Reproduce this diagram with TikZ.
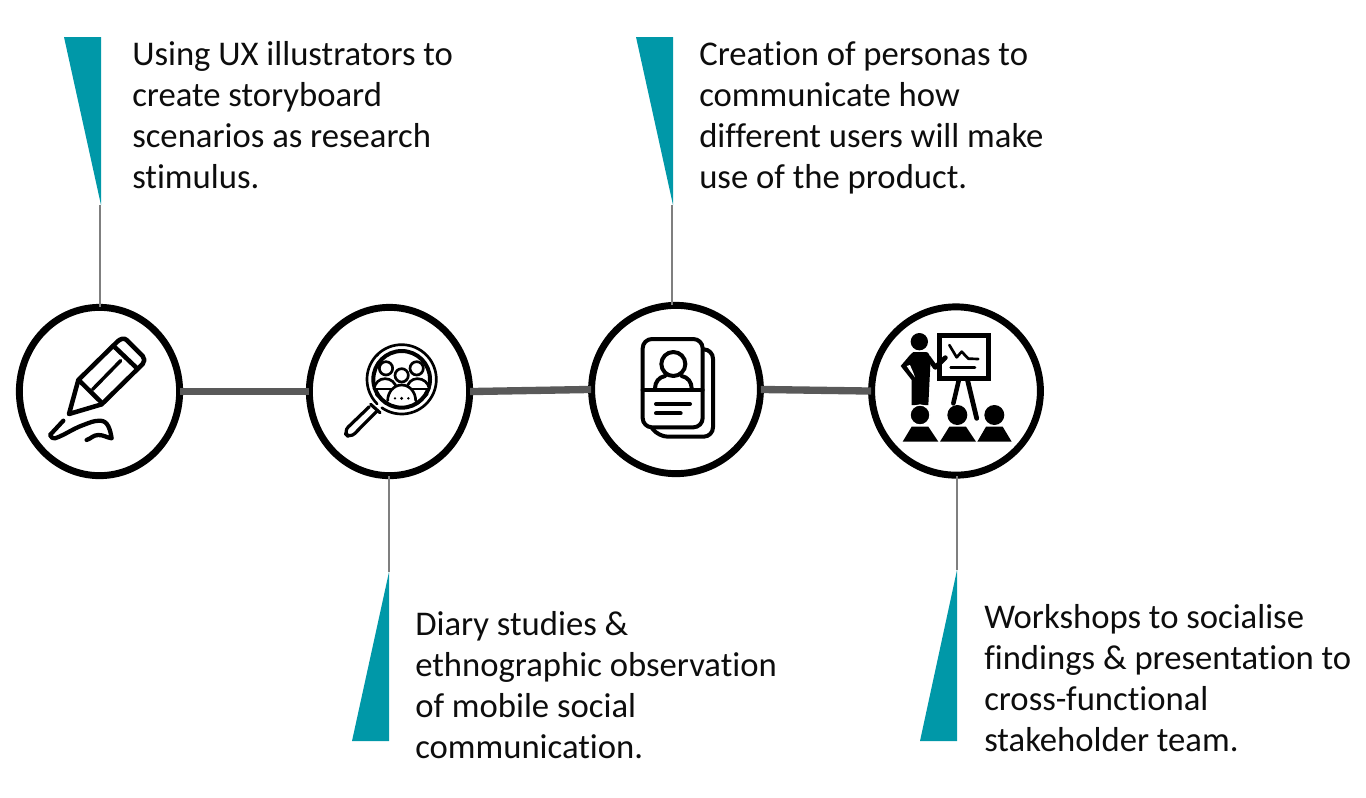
\documentclass[tikz,border=0pt]{standalone}
\usepackage{fontspec}
\usetikzlibrary{shapes.geometric}
\setmainfont{Carlito}[Ligatures=NoCommon]
\definecolor{teal1}{HTML}{0098A8}
\definecolor{link}{HTML}{595959}
\definecolor{thin}{HTML}{7F7F7F}
\tikzset{
  stage/.style={ellipse,draw=black,fill=white,line width=5.2pt,inner sep=0pt},
  narrowstage/.style={stage,minimum width=120.2pt,minimum height=126.2pt},
  widestage/.style={stage,minimum width=126.6pt,minimum height=126.2pt},
  linkline/.style={draw=link,line width=5.5pt,shorten <=-2.2pt,shorten >=-2.2pt},
  stem/.style={draw=thin,line width=1pt,shorten >=-2.2pt},
  flag/.style={fill=teal1,draw=none},
  caption/.style={align=left,inner sep=0pt,anchor=north west,text=black!95,font=\fontsize{26}{30.75}\selectfont},
  ic/.style={draw=black,line width=3pt,line cap=round,line join=round},
  ict/.style={draw=black,line width=2pt,line cap=round,line join=round},
  icf/.style={fill=black,draw=none}
}
\begin{document}
\begin{tikzpicture}[x=.75pt,y=-.75pt]
\useasboundingbox[fill=white] (0,0) rectangle (1366,797);
% flags
\fill[flag] (64,37) -- (101,37) -- (101,205) -- cycle;
\fill[flag] (389,572) -- (389,741) -- (352,741) -- cycle;
\fill[flag] (636,37) -- (673,37) -- (673,205) -- cycle;
\fill[flag] (957,570) -- (957,741) -- (920,741) -- cycle;
\coordinate (t1) at (100,205);
\coordinate (t2) at (389,572);
\coordinate (t3) at (672,205);
\coordinate (t4) at (957,570);
% circles
\node[narrowstage] (c1) at (99.5,391.5) {};
\node[narrowstage] (c2) at (389.5,391.5) {};
\node[widestage] (c3) at (676,389.5) {};
\node[widestage] (c4) at (956,391) {};
% connectors
\draw[linkline] (c1.east) -- (c2.west);
\draw[linkline] (c2.east) -- (c3.west);
\draw[linkline] (c3.east) -- (c4.west);
\draw[stem] (t1) -- (t1 |- c1.north);
\draw[stem] (t2) -- (t2 |- c2.south);
\draw[stem] (t3) -- (t3 |- c3.north);
\draw[stem] (t4) -- (t4 |- c4.south);
% captions
\node[caption] (n1) at (132,41) {Using UX illustrators to\\create storyboard\\scenarios as research\\stimulus.};
\node[caption] (n2) at (415,611) {Diary studies \&\\ethnographic observation\\of mobile social\\communication.};
\node[caption] (n3) at (699,41) {Creation of personas to\\communicate how\\different users will make\\use of the product.};
\node[caption] (n4) at (984,604) {Workshops to socialise\\findings \& presentation to\\cross-functional\\stakeholder team.};
% pencil icon
\begin{scope}[shift={(0,290)},x=.25pt,y=-.25pt]
\draw[ic,line width=3.4pt] (207,372) -- (235,270) -- (352,155) to[out=45,in=135] (380,150) -- (428,198) to[out=-45,in=45] (428,222) -- (305,343) -- cycle;
\draw[ic,line width=3.4pt] (238,272) -- (303,336);
\draw[ic,line width=3.4pt] (345,172) -- (408,232);
\draw[ict,line width=2.6pt] (278,298) -- (362,212);
\draw[ic,line width=3.2pt] (190,392) -- (150,435) to[out=-60,in=200] (165,445) to[out=20,in=200] (250,405) to[out=20,in=180] (300,392) to[out=0,in=100] (335,445) to[out=170,in=0] (295,435) to[out=180,in=20] (260,450);
\end{scope}
% magnifier icon
\begin{scope}[shift={(300,290)},x=.25pt,y=-.25pt]
\draw[ict] (305,268) ++(125:104) arc[start angle=125,end angle=-225,radius=104];
\draw[ict,line width=3pt] (305,268) circle[radius=85];
\fill[black] (232,195) circle[radius=5];
\draw[ict] (258,235) circle[radius=20];
\draw[ict] (350,235) circle[radius=20];
\draw[ict] (305,256) circle[radius=20];
\draw[ict,fill=white] (222,296) to[out=80,in=180] (255,266) to[out=0,in=100] (290,296);
\draw[ict,fill=white] (320,296) to[out=80,in=180] (352,266) to[out=0,in=100] (388,296);
\draw[ict] (222,297) -- (388,297);
\draw[ict,fill=white] (263,332) to[out=90,in=180] (305,285) to[out=0,in=90] (347,332);
\draw[ict] (228,312) to (256,338);
\draw[ict] (382,312) to (354,338);
\fill[black] (285,325) circle[radius=4] (305,325) circle[radius=5] (325,325) circle[radius=4];
\draw[ic,line width=2.4pt] (212,343) -- (240,368);
\draw[ic,line width=2.4pt,rounded corners=5pt] (208,350) -- (130,425) -- (150,445) -- (232,362);
\end{scope}
% persona icon
\begin{scope}[shift={(580,290)},x=.25pt,y=-.25pt]
\draw[ic,rounded corners=7pt] (188,147) rectangle (368,412);
\draw[ic,rounded corners=7pt] (372,178) -- (399,178) -- (399,440) -- (235,440) -- (216,414);
\draw[ic] (280,222) circle[radius=36];
\draw[ic] (225,295) to[out=90,in=190] (255,258);
\draw[ic] (335,295) to[out=90,in=-10] (305,258);
\draw[ic] (188,300) -- (368,300);
\draw[ic] (228,342) -- (330,342);
\draw[ic] (228,370) -- (302,370);
\end{scope}
% workshop icon
\begin{scope}[shift={(860,290)},x=.25pt,y=-.25pt]
\draw[draw=black,line width=3.6pt,line join=miter] (238,137) rectangle (385,265);
\draw[ict] (268,165) -- (290,202) -- (305,185) -- (325,206) -- (355,207);
\draw[ict] (272,233) -- (345,233);
\draw[draw=black,line width=3.4pt,line cap=round] (297,268) -- (280,340);
\draw[draw=black,line width=3.6pt,line cap=round] (322,268) -- (350,385);
\fill[icf] (178,155) circle[radius=26];
\fill[icf] (160,186) -- (198,186) to[out=0,in=120] (212,205) -- (205,345) -- (155,345) -- (155,270) -- (122,228) -- (150,195) -- cycle;
\fill[white] (150,225) -- (160,248) -- (165,262) -- (148,240) -- (140,228) -- cycle;
\draw[draw=black,line width=3.6pt,line cap=round,line join=round] (205,203) -- (226,232) -- (256,203);
\draw[draw=white,fill=black,line width=1pt] (180,375) circle[radius=30];
\fill[icf] (292,375) circle[radius=30];
\fill[icf] (403,375) circle[radius=30];
\fill[icf] (155,410) -- (205,410) -- (235,455) -- (128,455) -- cycle;
\fill[icf] (268,410) -- (318,410) -- (348,455) -- (240,455) -- cycle;
\fill[icf] (378,410) -- (428,410) -- (455,455) -- (352,455) -- cycle;
\end{scope}
\end{tikzpicture}
\end{document}
